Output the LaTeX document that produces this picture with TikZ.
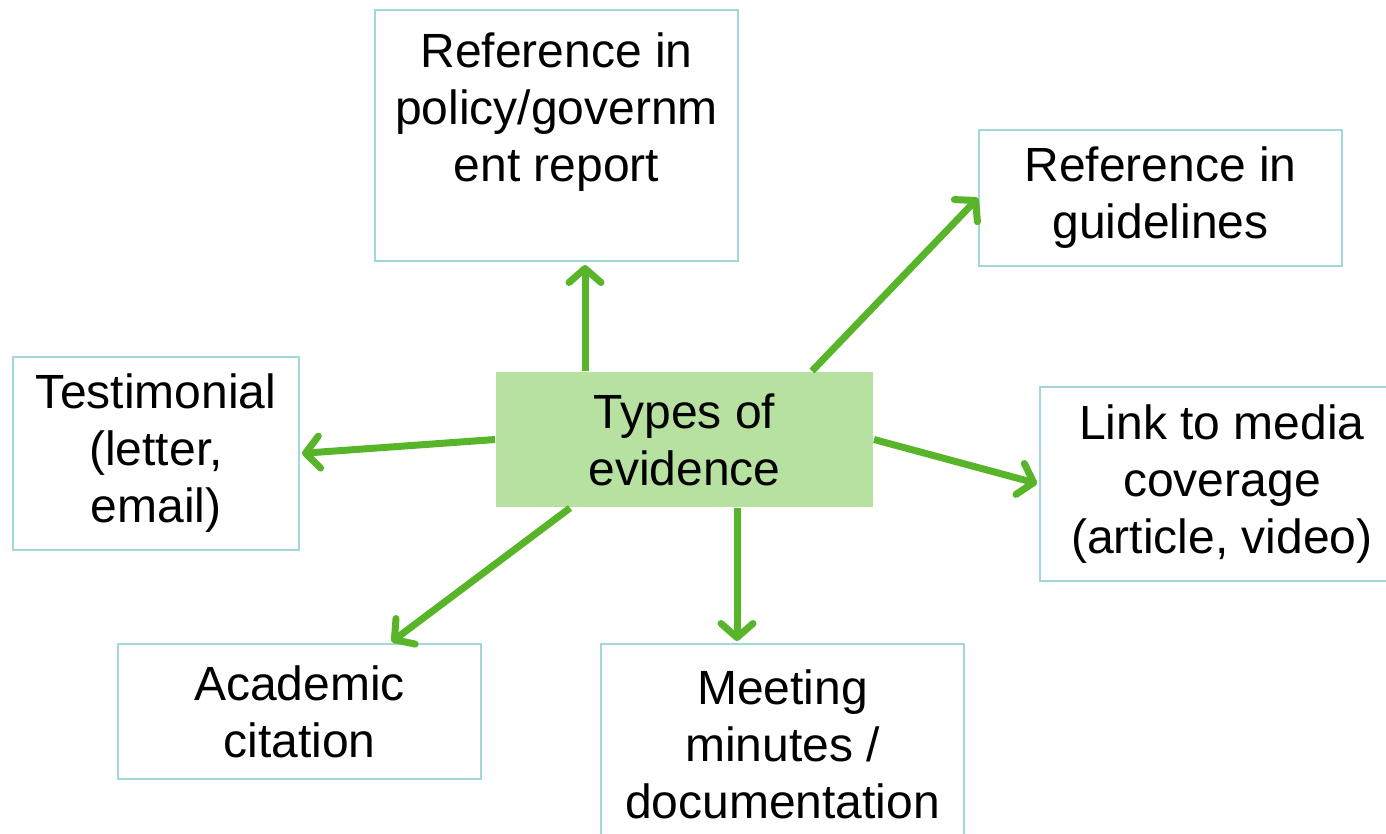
\documentclass[tikz,border=0pt]{standalone}
\usepackage{fontspec}
\setmainfont{Liberation Sans}
\usetikzlibrary{arrows.meta}
\definecolor{arrowgreen}{HTML}{58B52A}
\definecolor{centerfill}{HTML}{B6E1A0}
\definecolor{boxline}{HTML}{A3D8DA}
\begin{document}
\begin{tikzpicture}[x=1pt,y=-1pt,
  box/.style={draw=boxline, line width=2pt, fill=white, rectangle, inner sep=0pt,
    align=center, anchor=north west, font=\fontsize{48}{57}\selectfont},
  hub/.style={box, draw=none, fill=centerfill},
  arr/.style={draw=arrowgreen, line width=7pt,
    -{Straight Barb[length=14pt,width=32pt,round]}}]
\useasboundingbox (0,0) rectangle (1386,833);
\clip (0,0) rectangle (1386,833);
\node[box, minimum width=363pt, minimum height=251pt] (gov) at (374,9)
  {Reference in\\policy/governm\\ent report\\~};
\node[box, minimum width=363pt, minimum height=136pt] (gd) at (978,129)
  {Reference in\\guidelines};
\node[box, minimum width=286pt, minimum height=193pt] (test) at (12,356)
  {Testimonial\\(letter,\\email)};
\node[hub, minimum width=377pt, minimum height=135pt] (hub) at (495,371)
  {Types of\\evidence};
\node[box, minimum width=364pt, minimum height=194pt] (link) at (1039,386)
  {Link to media\\coverage\\(article, video)};
\node[box, minimum width=363pt, minimum height=135pt] (ac) at (117,643)
  {Academic\\citation};
\node[box, minimum width=363pt, minimum height=200pt] (mt) at (600,643)
  {Meeting\\minutes /\\documentation};
\coordinate (upS) at ([xshift=90pt]hub.north west);
\coordinate (gdS) at ([xshift=317pt]hub.north west);
\coordinate (acS) at ([xshift=75pt]hub.south west);
\coordinate (acE) at ([xshift=273pt]ac.north west);
\coordinate (mtS) at ([xshift=242pt]hub.south west);
\draw[arr, shorten >=3pt] (upS) -- (upS |- gov.south);
\draw[arr] (gdS) -- (gd.west);
\draw[arr, shorten >=2pt] (hub.west) -- (test.east);
\draw[arr, shorten >=2pt] (hub.east) -- (link.west);
\draw[arr, shorten >=2pt] (acS) -- (acE);
\draw[arr, shorten >=2pt] (mtS) -- (mtS |- mt.north);
\end{tikzpicture}
\end{document}
